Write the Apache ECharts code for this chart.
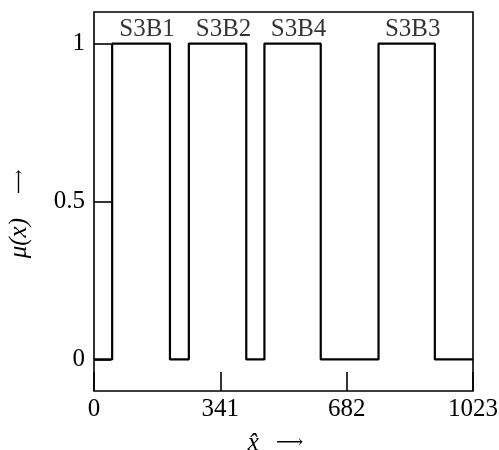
<!DOCTYPE html>
<html>
<head>
<meta charset="utf-8">
<script src="https://cdn.jsdelivr.net/npm/echarts@6/dist/echarts.min.js"></script>
<style>html,body{margin:0;padding:0;background:#fff;}#c{width:499px;height:450px;}</style>
</head>
<body>
<div id="c"></div>
<script>
const xTicks = [0, 341, 682, 1023];
const yTicks = [0, 0.5, 1];
const bandNames = ['S3B1', 'S3B2', 'S3B4', 'S3B3'];
const bandStart = [49, 256, 460, 768];
const bandEnd = [205, 411, 612, 920];
const xMax = 1023;

const lineData = [[0, 0]];
for (let i = 0; i < bandNames.length; i++) {
  lineData.push([bandStart[i], 0], [bandStart[i], 1], [bandEnd[i], 1], [bandEnd[i], 0]);
}
lineData.push([xMax, 0]);
const labelData = bandNames.map((n, i) => ({ name: n, value: [(bandStart[i] + bandEnd[i]) / 2, 1] }));

const FONT = '"Liberation Serif", "DejaVu Serif", serif';
const ARROW_FONT = '"DejaVu Serif", "DejaVu Sans", serif';
const chart = echarts.init(document.getElementById('c'));
chart.setOption({
  animation: false,
  grid: { left: 94, right: 26, top: 12, bottom: 59, containLabel: false, outerBoundsMode: 'none', show: true, borderColor: '#000', borderWidth: 1.6, backgroundColor: 'transparent' },
  xAxis: {
    type: 'value', min: 0, max: xMax,
    splitLine: { show: false },
    axisLine: { show: false, onZero: false },
    axisTick: { show: true, inside: true, length: 19, customValues: xTicks, lineStyle: { color: '#000', width: 1.6 } },
    axisLabel: { customValues: xTicks, formatter: v => String(v), color: '#000', fontFamily: FONT, fontSize: 25, margin: 6, hideOverlap: false },
    name: '{i|x\u0302}{g|}{a|\u27f6}',
    nameLocation: 'middle', nameGap: 40,
    nameTextStyle: {
      padding: [0, 16, 0, 0],
      rich: {
        i: { fontFamily: FONT, fontStyle: 'italic', fontSize: 25, color: '#000' },
        g: { width: 17 },
        a: { fontFamily: ARROW_FONT, fontSize: 19, color: '#000' }
      }
    }
  },
  yAxis: {
    type: 'value', min: -0.1, max: 1.1,
    splitLine: { show: false },
    axisLine: { show: false, onZero: false },
    axisTick: { show: true, inside: true, length: 17, customValues: yTicks, lineStyle: { color: '#000', width: 1.6 } },
    axisLabel: { customValues: yTicks, formatter: v => String(v), color: '#000', fontFamily: FONT, fontSize: 25, margin: 9 },
    name: '{i|\u03bc(x)}{g|}{a|\u27f6}',
    nameLocation: 'middle', nameGap: 62, nameRotate: 90,
    nameTextStyle: {
      padding: [0, 25, 0, 0],
      rich: {
        i: { fontFamily: FONT, fontStyle: 'italic', fontSize: 25, color: '#000' },
        g: { width: 24 },
        a: { fontFamily: ARROW_FONT, fontSize: 17, color: '#000' }
      }
    }
  },
  series: [
    {
      type: 'line', data: lineData, showSymbol: false, symbol: 'none',
      lineStyle: { color: '#000', width: 2.2 }, z: 3
    },
    {
      type: 'scatter', data: labelData, symbolSize: 0,
      label: { show: true, position: 'top', distance: 2, offset: [6, 0], formatter: '{b}', color: '#000', fontFamily: FONT, fontSize: 25 },
      silent: true
    }
  ]
});
</script>
</body>
</html>
